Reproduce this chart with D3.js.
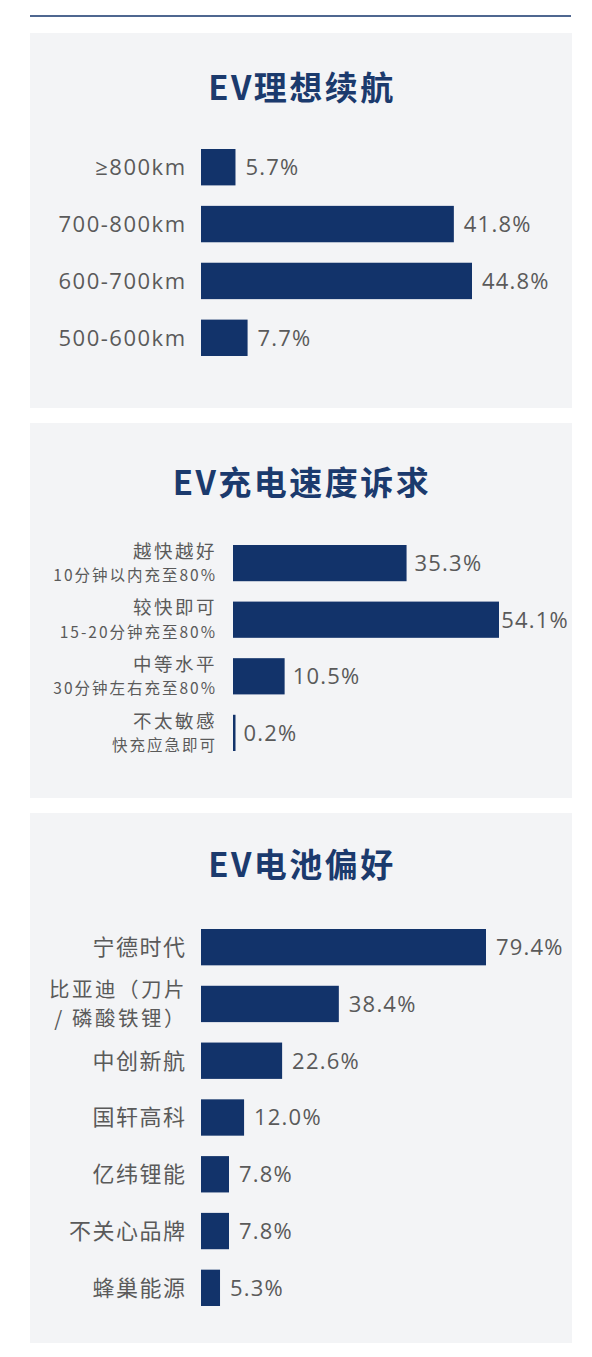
<!DOCTYPE html>
<html><head><meta charset="utf-8">
<script src="https://cdn.jsdelivr.net/npm/d3@7"></script>
<style>
html,body{margin:0;padding:0;background:#fff;}
text{font-family:"Open Sans","Noto Sans CJK SC",sans-serif;}
</style></head>
<body><svg id="c" width="592" height="1357"></svg>
<script>
// ---- data ----
const rangeTitle = "EV理想续航";
const rangeCats = ["≥800km","700-800km","600-700km","500-600km"];
const rangeVals = [5.7, 41.8, 44.8, 7.7];

const chargeTitle = "EV充电速度诉求";
const chargeCats = ["越快越好","较快即可","中等水平","不太敏感"];
const chargeSubs = ["10分钟以内充至80%","15-20分钟充至80%","30分钟左右充至80%","快充应急即可"];
const chargeVals = [35.3, 54.1, 10.5, 0.2];

const batteryTitle = "EV电池偏好";
const batteryCats = ["宁德时代","比亚迪（刀片\n/ 磷酸铁锂）","中创新航","国轩高科","亿纬锂能","不关心品牌","蜂巢能源"];
const batteryVals = [79.4, 38.4, 22.6, 12.0, 7.8, 7.8, 5.3];

// ---- drawing ----
const svg = d3.select("#c");
const BAR = "#12336a", TITLE = "#1b3a6d", TXT = "#5a5a5a", PANEL = "#f3f4f6";
const CJK = "'Noto Sans CJK SC',sans-serif";
const PANEL_R = 572;

svg.append("line").attr("x1",30).attr("x2",571).attr("y1",16).attr("y2",16)
  .attr("stroke","#4f6790").attr("stroke-width",2.2);

function panel(cfg){
  svg.append("rect").attr("x",30).attr("y",cfg.py0).attr("width",PANEL_R-30).attr("height",cfg.py1-cfg.py0).attr("fill",PANEL);
  svg.append("text").attr("x",302).attr("y",cfg.ty).attr("text-anchor","middle")
    .attr("font-size",33).attr("font-weight",700).attr("fill",TITLE).attr("letter-spacing",2.5)
    .style("font-family",CJK).text(cfg.title);
  const x = d3.scaleLinear().domain([0,d3.max(cfg.vals)]).range([cfg.x0,cfg.x1]);
  const y = d3.scaleBand().domain(cfg.cats).range([cfg.y0,cfg.y1]).paddingInner(0.36).paddingOuter(0);
  const g = svg.append("g");
  const rows = cfg.cats.map((c,i)=>({c,v:cfg.vals[i],s:cfg.subs?cfg.subs[i]:null}));
  const w = d => Math.max(2.5,x(d.v)-x(0));
  g.selectAll("rect.bar").data(rows).enter().append("rect").attr("class","bar")
    .attr("x",x(0)).attr("y",d=>y(d.c)).attr("height",y.bandwidth())
    .attr("width",w).attr("fill",BAR);
  g.selectAll("text.val").data(rows).enter().append("text").attr("class","val")
    .attr("x",d=>x(0)+w(d)+cfg.vgap).attr("y",d=>y(d.c)+y.bandwidth()/2)
    .attr("dy","0.36em").attr("font-size",22).attr("letter-spacing",1.2).attr("fill",TXT)
    .text(d=>d.v.toFixed(1)+"%")
    .each(function(){
      const len = this.getComputedTextLength();
      const xx = +this.getAttribute("x");
      if(xx+len > PANEL_R-3) this.setAttribute("x", PANEL_R-3-len);
    });
  rows.forEach(d=>{
    const cy = y(d.c)+y.bandwidth()/2;
    const lines = d.c.split("\n");
    if(d.s){
      g.append("text").attr("x",cfg.lx+2).attr("y",cy-12).attr("dy","0.36em").attr("text-anchor","end")
        .attr("font-size",18.5).attr("letter-spacing",2.5).attr("fill",TXT).style("font-family",CJK).text(d.c);
      g.append("text").attr("x",cfg.lx+2).attr("y",cy+12.5).attr("dy","0.36em").attr("text-anchor","end")
        .attr("font-size",15.5).attr("letter-spacing",2).attr("fill",TXT).style("font-family",CJK).text(d.s);
    } else if(lines.length>1){
      lines.forEach((l,k)=>{
        g.append("text").attr("x",cfg.lx+2).attr("y",cy+(k-0.5)*28.5).attr("dy","0.36em").attr("text-anchor","end")
          .attr("font-size",20.5).attr("letter-spacing",2.5).attr("fill",TXT).style("font-family",CJK).text(l);
      });
    } else {
      g.append("text").attr("x",cfg.lx+1.5).attr("y",cy).attr("dy","0.36em").attr("text-anchor","end")
        .attr("font-size",22).attr("letter-spacing",1.5).attr("fill",TXT).text(d.c);
    }
  });
}

panel({title:rangeTitle,cats:rangeCats,vals:rangeVals,py0:33,py1:408,ty:100,
  x0:201,x1:472,y0:149,y1:356,lx:185,vgap:10});
panel({title:chargeTitle,cats:chargeCats,subs:chargeSubs,vals:chargeVals,py0:423,py1:798,ty:495,
  x0:233,x1:499,y0:545,y1:751,lx:215,vgap:8});
panel({title:batteryTitle,cats:batteryCats,vals:batteryVals,py0:813,py1:1343,ty:877,
  x0:201,x1:486,y0:929,y1:1306,lx:185,vgap:10});
</script></body></html>
